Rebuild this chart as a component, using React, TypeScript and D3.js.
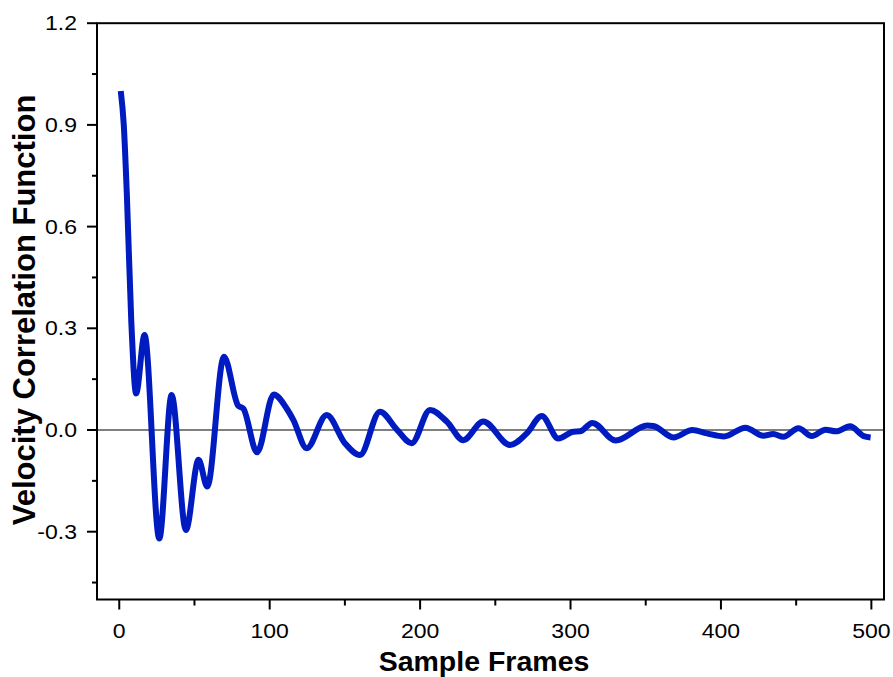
import React from "react";
import * as d3 from "d3";

const frames = [
  1, 3, 5, 8, 11.2, 16.8, 26.6, 34.8, 44.3, 52.7, 58.5, 69.6, 79, 82.5, 91.6,
  102.7, 111.5, 115.7, 124.6, 137.9, 150, 160, 173.3, 184.4, 194.4, 206.6,
  217.7, 228.7, 242, 259.8, 270.9, 280.9, 291.9, 302, 306.3, 314.5, 330, 351,
  355, 368.4, 381, 390.6, 402, 416.3, 428.2, 434.8, 441.5, 451.5, 460.4, 469.5,
  476.5, 485.8, 495, 499.5,
];
const vcf = [
  1.0, 0.9, 0.7, 0.32, 0.108, 0.28, -0.32, 0.103, -0.295, -0.088, -0.167,
  0.216, 0.072, 0.063, -0.066, 0.105, 0.062, 0.03, -0.054, 0.044, -0.039,
  -0.074, 0.054, 0.002, -0.039, 0.059, 0.025, -0.03, 0.025, -0.044, -0.01,
  0.041, -0.025, -0.005, -0.004, 0.021, -0.031, 0.013, 0.012, -0.022, 0.0,
  -0.01, -0.019, 0.007, -0.017, -0.012, -0.02, 0.005, -0.018, 0.001, -0.004,
  0.011, -0.018, -0.022,
];
const xMajor = [0, 100, 200, 300, 400, 500];
const xMinor = [50, 150, 250, 350, 450];
const yMajor = [-0.3, 0.0, 0.3, 0.6, 0.9, 1.2];
const yMinor = [-0.45, -0.15, 0.15, 0.45, 0.75, 1.05];
const xTitle = "Sample Frames";
const yTitle = "Velocity Correlation Function";

export default function App() {
  const W = 893, H = 677;
  const left = 97, right = 884, top = 23.2, bottom = 599.5;
  const x = d3.scaleLinear().domain([-14.8, 508.4]).range([left, right]);
  const y = d3.scaleLinear().domain([-0.5, 1.2]).range([bottom, top]);
  const data = frames.map((f, i) => [f, vcf[i]] as [number, number]);
  const line = d3
    .line<[number, number]>()
    .x((d) => x(d[0]))
    .y((d) => y(d[1]))
    .curve(d3.curveMonotoneX);
  const font = "'Liberation Sans', Arial, Helvetica, sans-serif";
  return (
    <div style={{ position: "absolute", left: 0, top: 0 }}>
      <svg width={W} height={H} style={{ display: "block", background: "#fff" }}>
        <line x1={left} x2={right} y1={y(0)} y2={y(0)} stroke="#000" strokeWidth={1.2} />
        <path
          d={line(data) || ""}
          fill="none"
          stroke="#001BBF"
          strokeWidth={6}
          strokeLinejoin="round"
          strokeLinecap="butt"
        />
        <rect x={left} y={top} width={right - left} height={bottom - top} fill="none" stroke="#000" strokeWidth={2} />
        {yMajor.map((v) => (
          <g key={"ym" + v}>
            <line x1={left - 10} x2={left} y1={y(v)} y2={y(v)} stroke="#000" strokeWidth={2} />
            <text
              transform={`translate(${left - 20},${y(v) + 7}) scale(1.18,1)`}
              textAnchor="end"
              fontFamily={font}
              fontSize={19.5}
              fill="#000"
            >
              {v.toFixed(1)}
            </text>
          </g>
        ))}
        {yMinor.map((v) => (
          <line key={"yn" + v} x1={left - 5} x2={left} y1={y(v)} y2={y(v)} stroke="#000" strokeWidth={2} />
        ))}
        {xMajor.map((v) => (
          <g key={"xm" + v}>
            <line x1={x(v)} x2={x(v)} y1={bottom} y2={bottom + 10} stroke="#000" strokeWidth={2} />
            <text
              transform={`translate(${x(v)},${bottom + 38}) scale(1.18,1)`}
              textAnchor="middle"
              fontFamily={font}
              fontSize={19.5}
              fill="#000"
            >
              {v}
            </text>
          </g>
        ))}
        {xMinor.map((v) => (
          <line key={"xn" + v} x1={x(v)} x2={x(v)} y1={bottom} y2={bottom + 6} stroke="#000" strokeWidth={2} />
        ))}
        <text
          x={484}
          y={671}
          textAnchor="middle"
          fontFamily={font}
          fontWeight="bold"
          fontSize={28.5}
          fill="#000"
        >
          {xTitle}
        </text>
        <text
          transform={`translate(35,310) rotate(-90)`}
          textAnchor="middle"
          fontFamily={font}
          fontWeight="bold"
          fontSize={31}
          fill="#000"
        >
          {yTitle}
        </text>
      </svg>
    </div>
  );
}
